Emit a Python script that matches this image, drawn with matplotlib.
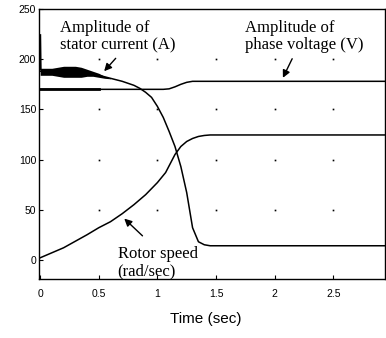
import numpy as np
import matplotlib
matplotlib.use("Agg")
import matplotlib.pyplot as plt

# stator current amplitude (mean path)
t_cur = [0, 0.1, 0.2, 0.3, 0.4, 0.5, 0.6, 0.7, 0.8, 0.85, 0.9, 0.95, 1.0, 1.05,
         1.1, 1.15, 1.2, 1.25, 1.3, 1.35, 1.4, 1.45, 2.95]
i_cur = [188, 188, 188, 187, 186, 184, 181, 178, 174, 171, 167, 162, 153, 142,
         128, 113, 93, 67, 32, 18, 15, 14, 14]
# startup spike of the current
t_spike = [0, 0.004]
i_spike = [224, 190]
# ripple band of the current during start
t_band = [0, 0.05, 0.1, 0.15, 0.2, 0.25, 0.3, 0.35, 0.4, 0.45, 0.5, 0.55, 0.6]
band_hi = [191, 191, 191, 192, 193, 193, 193, 192, 190, 188, 186, 183, 181]
band_lo = [184, 184, 184, 183, 182, 182, 182, 182, 183, 183, 182, 181, 180.5]

# phase voltage amplitude
t_volt = [0, 0.95, 1.0, 1.05, 1.1, 1.15, 1.2, 1.25, 1.3, 1.35, 2.95]
v_volt = [170, 170, 170, 170, 170.5, 172.5, 175, 177, 178, 178, 178]
t_volt_ripple = [0, 0.5]
v_volt_ripple = [170, 170]

# rotor speed
t_rot = [0, 0.2, 0.4, 0.5, 0.6, 0.7, 0.8, 0.9, 1.0, 1.07, 1.15, 1.2, 1.25,
         1.3, 1.35, 1.4, 1.45, 2.95]
w_rot = [2, 12, 25, 32, 38, 46, 55, 65, 77, 87, 105, 113, 118, 121, 123, 124,
         124.5, 124.5]

xticks = [0, 0.5, 1, 1.5, 2, 2.5]
yticks = [0, 50, 100, 150, 200, 250]

fig = plt.figure(figsize=(3.86, 3.38), dpi=100)
ax = fig.add_axes([0.101, 0.175, 0.896, 0.798])

ax.fill_between(t_band, band_lo, band_hi, color='black', lw=0)
ax.plot(t_cur, i_cur, color='black', lw=1.1)
ax.plot(t_spike, i_spike, color='black', lw=1.5)
ax.plot(t_volt, v_volt, color='black', lw=1.1)
ax.plot(t_volt_ripple, v_volt_ripple, color='black', lw=2.0)
ax.plot(t_rot, w_rot, color='black', lw=1.1)

# sparse grid dots at tick intersections
gx, gy = np.meshgrid(xticks[1:], yticks[1:-1])
ax.plot(gx.ravel(), gy.ravel(), 's', color='black', ms=1.2, mew=0)

ax.set_xlim(-0.01, 2.94)
ax.set_ylim(-19, 250)
ax.set_xticks(xticks)
ax.set_xticklabels(['0', '0.5', '1', '1.5', '2', '2.5'])
ax.set_yticks(yticks)
ax.tick_params(direction='in', length=3, labelsize=7.5)
ax.tick_params(axis='x', pad=7)
ax.tick_params(axis='y', pad=2)
for lab in ax.get_xticklabels() + ax.get_yticklabels():
    lab.set_family('Liberation Sans')
for sp in ax.spines.values():
    sp.set_linewidth(1.0)

ax.set_xlabel('Time (sec)', fontsize=11, family='Liberation Sans')
ax.xaxis.set_label_coords(0.483, -0.122)

serif = dict(fontsize=12, family='Liberation Serif', ha='left', linespacing=1.1)
ax.text(0.17, 239, 'Amplitude of\nstator current (A)', va='top', **serif)
ax.text(1.75, 239, 'Amplitude of\nphase voltage (V)', va='top', **serif)
ax.text(0.66, 14, 'Rotor speed\n(rad/sec)', va='top', **serif)

arrow = dict(arrowstyle='-|>', color='black', lw=1.0, mutation_scale=11)
ax.annotate('', xy=(0.53, 186), xytext=(0.66, 203), arrowprops=arrow)
ax.annotate('', xy=(2.06, 179), xytext=(2.16, 203), arrowprops=arrow)
ax.annotate('', xy=(0.70, 43), xytext=(0.89, 22), arrowprops=arrow)

fig.savefig('out.png', dpi=100)
